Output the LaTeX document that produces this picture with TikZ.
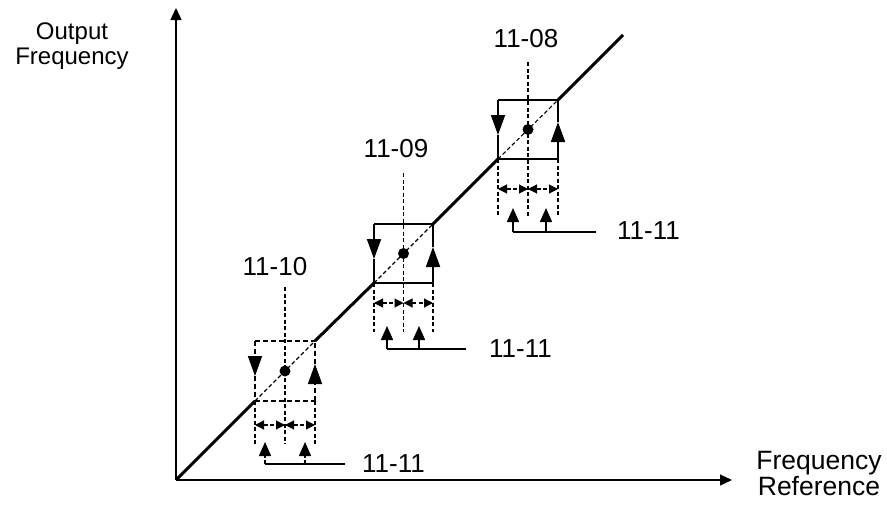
\documentclass[tikz,border=0pt]{standalone}
\usepackage{fontspec}
\setmainfont{Liberation Sans}
\usetikzlibrary{arrows.meta}
\begin{document}
\begin{tikzpicture}[x=1pt,y=-1pt,
  axis/.style={line width=1.4pt,-{Triangle[length=12pt,width=11pt]}},
  diag/.style={line width=3pt},
  thindash/.style={line width=1.1pt,dash pattern=on 4pt off 2.5pt},
  boxline/.style={line width=1.8pt},
  boxdash/.style={line width=1.6pt,dash pattern=on 5pt off 3pt},
  sidearrow/.style={-{Triangle[length=20pt,width=14pt]}},
  smallarrow/.style={{Triangle[length=9pt,width=9pt]}-{Triangle[length=9pt,width=9pt]}},
  uparrow/.style={-{Triangle[length=14pt,width=12pt]}},
  stem/.style={line width=1.5pt},
  stemdash/.style={line width=1.5pt,dash pattern=on 4pt off 2.5pt},
  lab/.style={font=\fontsize{26}{30}\selectfont, inner sep=0pt},
  axlab/.style={inner sep=0pt, align=center}]
\useasboundingbox (0,0) rectangle (887,506);

% axes
\coordinate (O) at (176,480);
\coordinate (ytop) at (176,8);
\coordinate (xend) at (732,480);
\draw[axis] (O) -- (ytop);
\draw[axis] (O) -- (xend);
\node[axlab, font=\fontsize{24}{25}\selectfont, anchor=base] (ylab) at (72,64) {Output\\Frequency};
\node[axlab, font=\fontsize{26.5}{22}\selectfont, anchor=base] (xlab) at (819,495) {Frequency\\Reference};

% ---------- box 3 (11-10), dashed ----------
\coordinate (c3tl) at (255,341); \coordinate (c3tr) at (315,341);
\coordinate (c3bl) at (255,401); \coordinate (c3br) at (315,401);
\coordinate (c3c) at (285,371);
\coordinate (c3la) at (255,376); \coordinate (c3ra) at (315,364);
\draw[boxdash] (c3tl) -- (c3tr);
\draw[boxdash] (c3bl) -- (c3br);
\draw[boxdash,sidearrow] (c3tl) -- (c3la);
\draw[boxdash] (c3la) -- (c3bl);
\draw[boxdash,sidearrow] (c3br) -- (c3ra);
\draw[boxdash] (c3ra) -- (c3tr);
\draw[thindash] (c3bl) -- (c3tr);
\fill (c3c) circle (5.5pt);
\coordinate (c3vt) at (285,287); \coordinate (c3vb) at (285,444);
\coordinate (c3lb) at (255,444); \coordinate (c3rb) at (315,444);
\draw[thindash] (c3vt) -- (c3vb);
\draw[thindash] (c3bl) -- (c3lb);
\draw[thindash] (c3br) -- (c3rb);
\coordinate (c3dl) at (255,425); \coordinate (c3dc) at (285,425); \coordinate (c3dr) at (315,425);
\draw[thindash,smallarrow] (c3dl) -- (c3dc);
\draw[thindash,smallarrow] (c3dc) -- (c3dr);
\coordinate (c3a1) at (265,464); \coordinate (c3a1t) at (265,442);
\coordinate (c3a2) at (305,464); \coordinate (c3a2t) at (305,442);
\coordinate (c3he) at (345,464);
\draw[stemdash,uparrow] (c3a1) -- (c3a1t);
\draw[stemdash,uparrow] (c3a2) -- (c3a2t);
\draw[stem] (c3a1) -- (c3he);
\node[lab,anchor=west] (l3b) at (362,464) {11-11};
\node[lab,anchor=base] (l3t) at (275,275) {11-10};

% ---------- box 2 (11-09) ----------
\coordinate (c2tl) at (374,224); \coordinate (c2tr) at (433,224);
\coordinate (c2bl) at (374,283); \coordinate (c2br) at (433,283);
\coordinate (c2c) at (403.5,253.5);
\coordinate (c2la) at (374,259); \coordinate (c2ra) at (433,247);
\draw[boxline] (c2tl) -- (c2tr);
\draw[boxline] (c2bl) -- (c2br);
\draw[boxline,sidearrow] (c2tl) -- (c2la);
\draw[boxline] (c2la) -- (c2bl);
\draw[boxline,sidearrow] (c2br) -- (c2ra);
\draw[boxline] (c2ra) -- (c2tr);
\draw[thindash] (c2bl) -- (c2tr);
\fill (c2c) circle (5.5pt);
\coordinate (c2vt) at (403.5,173); \coordinate (c2vb) at (403.5,332);
\coordinate (c2lb) at (374,332); \coordinate (c2rb) at (433,332);
\draw[thindash] (c2vt) -- (c2vb);
\draw[thindash] (c2bl) -- (c2lb);
\draw[thindash] (c2br) -- (c2rb);
\coordinate (c2dl) at (374,303); \coordinate (c2dc) at (403.5,303); \coordinate (c2dr) at (433,303);
\draw[thindash,smallarrow] (c2dl) -- (c2dc);
\draw[thindash,smallarrow] (c2dc) -- (c2dr);
\coordinate (c2a1) at (387,349); \coordinate (c2a1t) at (387,326);
\coordinate (c2a2) at (419,349); \coordinate (c2a2t) at (419,326);
\coordinate (c2he) at (466,349);
\draw[stem,uparrow] (c2a1) -- (c2a1t);
\draw[stem,uparrow] (c2a2) -- (c2a2t);
\draw[stem] (c2a1) -- (c2he);
\node[lab,anchor=west] (l2b) at (489,349) {11-11};
\node[lab,anchor=base] (l2t) at (396,157) {11-09};

% ---------- box 1 (11-08) ----------
\coordinate (c1tl) at (498,100); \coordinate (c1tr) at (558,100);
\coordinate (c1bl) at (498,159); \coordinate (c1br) at (558,159);
\coordinate (c1c) at (528,129.5);
\coordinate (c1la) at (498,135); \coordinate (c1ra) at (558,122);
\draw[boxline] (c1tl) -- (c1tr);
\draw[boxline] (c1bl) -- (c1br);
\draw[boxline,sidearrow] (c1tl) -- (c1la);
\draw[boxline] (c1la) -- (c1bl);
\draw[boxline,sidearrow] (c1br) -- (c1ra);
\draw[boxline] (c1ra) -- (c1tr);
\draw[thindash] (c1bl) -- (c1tr);
\fill (c1c) circle (5.5pt);
\coordinate (c1vt) at (528,62); \coordinate (c1vb) at (528,217);
\coordinate (c1lb) at (498,217); \coordinate (c1rb) at (558,217);
\draw[thindash] (c1vt) -- (c1vb);
\draw[thindash] (c1bl) -- (c1lb);
\draw[thindash] (c1br) -- (c1rb);
\coordinate (c1dl) at (498,189); \coordinate (c1dc) at (528,189); \coordinate (c1dr) at (558,189);
\draw[thindash,smallarrow] (c1dl) -- (c1dc);
\draw[thindash,smallarrow] (c1dc) -- (c1dr);
\coordinate (c1a1) at (513,232); \coordinate (c1a1t) at (513,208);
\coordinate (c1a2) at (546,232); \coordinate (c1a2t) at (546,208);
\coordinate (c1he) at (596,232);
\draw[stem,uparrow] (c1a1) -- (c1a1t);
\draw[stem,uparrow] (c1a2) -- (c1a2t);
\draw[stem] (c1a1) -- (c1he);
\node[lab,anchor=west] (l1b) at (617,231) {11-11};
\node[lab,anchor=base] (l1t) at (526,47) {11-08};

% ---------- thick diagonal ----------
\coordinate (dend) at (623,35);
\draw[diag] (O) -- (c3bl);
\draw[diag] (c3tr) -- (c2bl);
\draw[diag] (c2tr) -- (c1bl);
\draw[diag] (c1tr) -- (dend);
\end{tikzpicture}
\end{document}
